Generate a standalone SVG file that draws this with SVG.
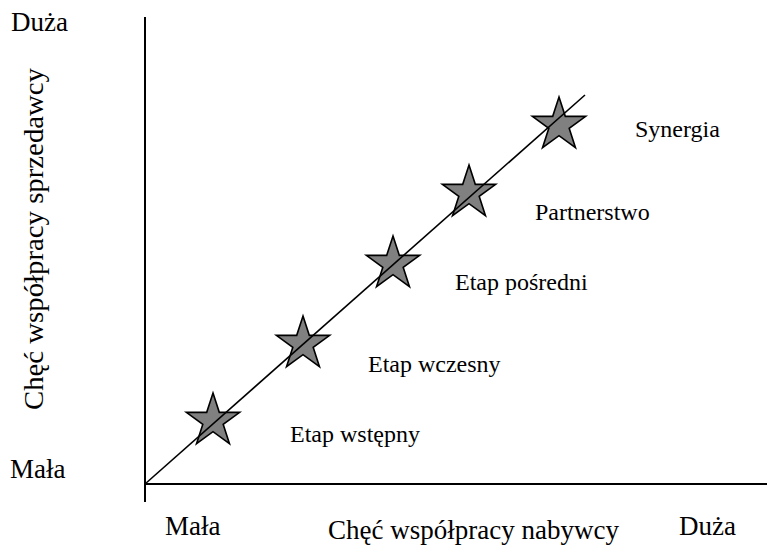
<svg xmlns="http://www.w3.org/2000/svg" width="767" height="546" viewBox="0 0 767 546">
  <style>
    .lbl { font-family: "Liberation Serif", "Times New Roman", serif; font-size: 24px; fill: #000; }
    .ax { font-family: "Liberation Serif", "Times New Roman", serif; font-size: 27px; fill: #000; }
    .axis { stroke: #000; stroke-width: 2; fill: none; }
    .diag { stroke: #000; stroke-width: 1.6; fill: none; }
    .star { fill: #808080; stroke: #000; stroke-width: 1.6; stroke-linejoin: miter; }
  </style>
  <defs>
    <polygon id="star" points="0,-28 6.29,-8.66 26.63,-8.65 10.18,3.31 16.46,22.65 0,10.7 -16.46,22.65 -10.18,3.31 -26.63,-8.65 -6.29,-8.66"/>
  </defs>
  <rect width="767" height="546" fill="#fff"/>

  <!-- axes -->
  <g id="axes">
    <line class="axis" x1="145" y1="17" x2="145" y2="502"/>
    <line class="axis" x1="145" y1="484" x2="767" y2="484"/>
  </g>

  <!-- axis labels -->
  <g id="axis-labels">
    <text class="ax" x="11" y="31">Duża</text>
    <text class="ax" x="10" y="478">Mała</text>
    <text class="ax" x="165" y="535">Mała</text>
    <text class="ax" x="679" y="535">Duża</text>
    <text class="ax" x="328" y="539">Chęć współpracy nabywcy</text>
    <text class="ax" transform="translate(43,410) rotate(-90)" textLength="342" lengthAdjust="spacingAndGlyphs">Chęć współpracy sprzedawcy</text>
  </g>

  <!-- stages -->
  <g id="stage-1">
    <use href="#star" class="star" x="213" y="421"/>
    <text class="lbl" x="290" y="442">Etap wstępny</text>
  </g>
  <g id="stage-2">
    <use href="#star" class="star" x="303" y="344"/>
    <text class="lbl" x="368" y="372">Etap wczesny</text>
  </g>
  <g id="stage-3">
    <use href="#star" class="star" x="393" y="264"/>
    <text class="lbl" x="455" y="290">Etap pośredni</text>
  </g>
  <g id="stage-4">
    <use href="#star" class="star" x="469" y="193"/>
    <text class="lbl" x="535" y="220">Partnerstwo</text>
  </g>
  <g id="stage-5">
    <use href="#star" class="star" x="559" y="125"/>
    <text class="lbl" x="635" y="137">Synergia</text>
  </g>

  <!-- diagonal path through the stages -->
  <g id="connectors">
    <line class="diag" x1="145" y1="484" x2="585" y2="95"/>
  </g>
</svg>
